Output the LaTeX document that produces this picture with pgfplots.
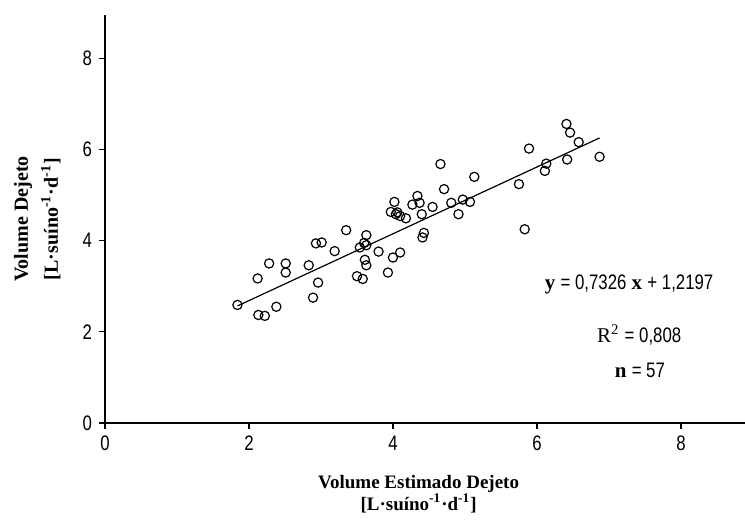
\documentclass[border=0pt]{standalone}
\usepackage{fontspec}
\setmainfont{Liberation Serif}
\newfontfamily\narrowsans[FakeStretch=0.8]{Liberation Sans}
\usepackage{pgfplots}
\pgfplotsset{compat=1.18}

\begin{document}
\begin{tikzpicture}
\begin{axis}[
    name=ax,
    scale only axis, width=320pt, height=204pt,
    xmin=0, xmax=8.89, ymin=0, ymax=8.95,
    axis x line*=bottom, axis y line*=left,
    axis line style={-, line width=0.6pt},
    xtick={0,2,4,6,8}, ytick={0,2,4,6,8},
    tick align=outside, major tick length=3pt,
    tick style={black, line width=0.6pt},
    tick label style={font=\fontsize{10.5}{11}\narrowsans},
    /pgf/number format/assume math mode=true,
    xlabel={\textbf{Volume Estimado Dejeto}\\ \textbf{[L·suíno\textsuperscript{-1}·d\textsuperscript{-1}]}},
    ylabel={\textbf{Volume Dejeto}\\ \textbf{[L·suíno\textsuperscript{-1}·d\textsuperscript{-1}]}},
    xlabel style={font=\fontsize{9.5}{11}\selectfont, align=center,
        at={(axis description cs:0.49,-0.174)}, anchor=center},
    ylabel style={font=\fontsize{10}{15}\selectfont, align=center,
        at={(axis description cs:-0.106,0.5)}, anchor=center, rotate=0},
    clip=false,
]
\addplot[only marks, mark=o, mark size=2.3pt, mark options={line width=0.6pt, black}] coordinates {
(1.84,2.59) (2.12,3.17) (2.28,3.50) (2.51,3.50) (2.51,3.30) (2.83,3.46)
(2.96,3.08) (2.89,2.75) (2.38,2.55) (2.13,2.37) (2.22,2.35) (2.93,3.94)
(3.01,3.96) (3.19,3.77) (3.35,4.23) (3.63,4.12) (3.54,3.85) (3.63,3.90)
(3.61,3.58) (3.63,3.46) (3.50,3.22) (3.58,3.16) (3.93,3.30) (4.00,3.63)
(4.10,3.74) (3.80,3.76) (4.02,4.85) (3.97,4.63) (4.04,4.58) (4.10,4.54)
(4.18,4.49) (4.34,4.98) (4.27,4.79) (4.37,4.83) (4.40,4.58) (4.43,4.17)
(4.41,4.07) (4.55,4.74) (4.66,5.68) (4.71,5.13) (4.81,4.83) (4.91,4.58)
(4.97,4.90) (5.07,4.85) (5.13,5.40) (5.75,5.24) (5.83,4.25) (5.89,6.02)
(6.11,5.53) (6.13,5.69) (6.41,6.56) (6.46,6.37) (6.58,6.16) (6.42,5.78)
(6.87,5.84) (4.06,4.62) (3.60,3.95)
};
% fitted line y = 0.7326x + 1.2197
\addplot[black, line width=0.6pt] coordinates {(1.84,2.568) (6.87,6.253)};
\node[font=\fontsize{10.5}{11}\selectfont] at (axis cs:7.28,3.03)
    {\textbf{y} {\narrowsans = 0,7326} \textbf{x} {\narrowsans + 1,2197}};
\node[font=\fontsize{10.5}{11}\selectfont] at (axis cs:7.42,1.93)
    {R\textsuperscript{2} {\narrowsans = 0,808}};
\node[font=\fontsize{10.5}{11}\selectfont] at (axis cs:7.43,1.16)
    {\textbf{n} {\narrowsans = 57}};
\end{axis}
\pgfresetboundingbox
\path ([shift={(-52.5pt,-51pt)}]ax.south west) rectangle ([shift={(0pt,7.5pt)}]ax.north east);
\end{tikzpicture}
\end{document}
